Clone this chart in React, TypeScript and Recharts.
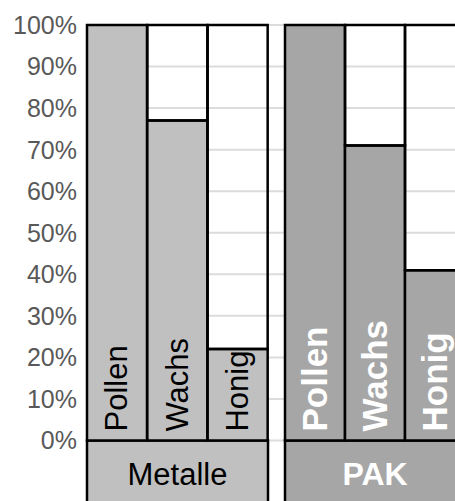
import React from 'react';
import { BarChart, Bar, XAxis, YAxis, CartesianGrid, LabelList, ReferenceArea } from 'recharts';

const categories = ['Pollen', 'Wachs', 'Honig'];
const metalle = [100, 77, 22];
const pak = [100, 71, 41];
const groups = ['Metalle', 'PAK'];
const yTicks = [0, 10, 20, 30, 40, 50, 60, 70, 80, 90, 100];

const data = categories.map((cat, i) => ({
  cat,
  m: metalle[i],
  mRest: 100 - metalle[i],
  p: pak[i],
  pRest: 100 - pak[i],
}));

const FONT = '"Liberation Sans", Arial, sans-serif';

const barLabel = (color: string, size: number, weight: number) => (props: any) => {
  const { x, y, width, height, value } = props;
  const cx = x + width / 2;
  const by = y + height - 9;
  return (
    <text
      x={cx}
      y={by}
      transform={`rotate(-90 ${cx} ${by})`}
      textAnchor="start"
      dominantBaseline="central"
      fontSize={size}
      fontWeight={weight}
      fill={color}
      fontFamily={FONT}
    >
      {value}
    </text>
  );
};

export default function App() {
  return (
    <div style={{ position: 'fixed', left: 0, top: 0, width: 455, height: 501, overflow: 'hidden', background: '#fff' }}>
      <BarChart
        width={470}
        height={507}
        data={data}
        margin={{ top: 25, right: 5, left: 0, bottom: 0 }}
        barCategoryGap={0}
        barGap={0}
        style={{ fontFamily: FONT }}
      >
        <CartesianGrid xAxisId="m" vertical={false} stroke="#dcdcdc" strokeWidth={2} />
        <XAxis xAxisId="m" dataKey="cat" hide padding={{ left: 0, right: 197 }} />
        <XAxis xAxisId="p" dataKey="cat" hide padding={{ left: 198, right: 0 }} />
        <YAxis
          type="number"
          domain={[-16, 100]}
          ticks={yTicks}
          interval={0}
          width={87}
          axisLine={false}
          tickLine={false}
          tickSize={0}
          tickMargin={10}
          tickFormatter={(v: number) => `${v}%`}
          tick={{ fill: '#595959', fontSize: 25 }}
        />
        <Bar xAxisId="m" dataKey="m" stackId="m" fill="#c0c0c0" stroke="#000" strokeWidth={2.5} isAnimationActive={false}>
          <LabelList dataKey="cat" content={barLabel('#000', 31, 400)} />
        </Bar>
        <Bar xAxisId="m" dataKey="mRest" stackId="m" fill="none" stroke="#000" strokeWidth={2.5} isAnimationActive={false} />
        <Bar xAxisId="p" dataKey="p" stackId="p" fill="#a6a6a6" stroke="#000" strokeWidth={2.5} isAnimationActive={false}>
          <LabelList dataKey="cat" content={barLabel('#fff', 35, 900)} />
        </Bar>
        <Bar xAxisId="p" dataKey="pRest" stackId="p" fill="none" stroke="#000" strokeWidth={2.5} isAnimationActive={false} />
        <ReferenceArea
          xAxisId="m"
          x1={categories[0]}
          x2={categories[2]}
          y1={0}
          y2={-16}
          fill="#c0c0c0"
          fillOpacity={1}
          stroke="#000"
          strokeWidth={2.5}
          label={{ value: groups[0], position: 'center', fontSize: 31, fill: '#000' }}
        />
        <ReferenceArea
          xAxisId="p"
          x1={categories[0]}
          x2={categories[2]}
          y1={0}
          y2={-16}
          fill="#a6a6a6"
          fillOpacity={1}
          stroke="#000"
          strokeWidth={2.5}
          label={{ value: groups[1], position: 'center', fontSize: 32, fontWeight: 900, fill: '#fff' }}
        />
      </BarChart>
    </div>
  );
}
